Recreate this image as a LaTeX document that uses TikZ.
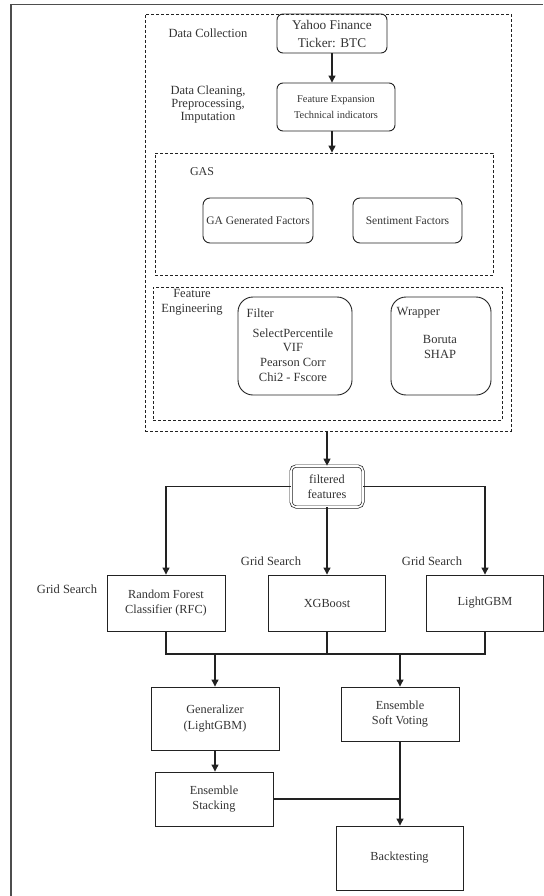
\documentclass[tikz,border=0pt]{standalone}
\usepackage{fontspec}
\setmainfont{Liberation Serif}
\usetikzlibrary{arrows.meta}
\definecolor{ink}{HTML}{222222}
\definecolor{txt}{HTML}{333333}
\tikzset{
  every node/.style={text=txt, inner sep=0pt},
  lbl/.style={font=\fontsize{12.5}{13}\selectfont, align=center},
  box/.style={draw=ink, line width=0.9pt, align=center, font=\fontsize{12.3}{15.5}\selectfont},
  rbox/.style={box, rounded corners=6pt},
  bigr/.style={box, rounded corners=15pt},
  dbox/.style={draw=ink, line width=0.8pt, dash pattern=on 3pt off 2pt},
  dblbox/.style={draw=ink, line width=0.7pt, double, double distance=1.6pt, rounded corners=5pt, align=center, font=\fontsize{12.3}{15.5}\selectfont},
  conn/.style={draw=ink, line width=1.1pt},
  arr/.style={conn, -{Triangle[length=7pt,width=7pt]}},
}
\begin{document}
\begin{tikzpicture}[x=1pt,y=-1pt]
\useasboundingbox (0,0) rectangle (543,896);
% outer frame
\draw[ink!80, line width=1.3pt] (11,896) -- (11,4.3) -- (543,4.3);
% dashed containers
\node[dbox, minimum width=366pt, minimum height=417pt] (outer) at (328,222.5) {};
\node[dbox, minimum width=338pt, minimum height=122pt] (gas) at (324,214) {};
\node[dbox, minimum width=349pt, minimum height=133pt] (fe) at (327.5,353.5) {};
% top nodes
\node[rbox, minimum width=110pt, minimum height=39pt, font=\fontsize{13.3}{18}\selectfont] (yahoo) at (332,33.5) {Yahoo Finance\\Ticker: BTC};
\node[rbox, minimum width=118pt, minimum height=48pt, font=\fontsize{10.4}{15.6}\selectfont] (fexp) at (336,107) {Feature Expansion\\Technical indicators};
\node[lbl] (dcol) at (208,33) {Data Collection};
\node[lbl] (dclean) at (208,104) {Data Cleaning,\\Preprocessing,\\Imputation};
% GAS
\node[lbl, font=\fontsize{12}{13}\selectfont] (gaslbl) at (202,172) {GAS};
\node[rbox, rounded corners=7pt, minimum width=110pt, minimum height=45pt, font=\fontsize{11.5}{14}\selectfont] (ga) at (258,220.5) {GA Generated Factors};
\node[rbox, rounded corners=7pt, minimum width=109pt, minimum height=45pt, font=\fontsize{11.5}{14}\selectfont] (sent) at (407.5,220.5) {Sentiment Factors};
% Feature engineering
\node[lbl, font=\fontsize{12.5}{15}\selectfont] (felbl) at (192,302.5) {Feature\\Engineering};
\node[bigr, minimum width=114pt, minimum height=98pt] (filter) at (295,346) {};
\node[anchor=west, font=\fontsize{12.5}{15}\selectfont] (filtert) at (246.5,313) {Filter};
\node[lbl, font=\fontsize{12.5}{14.7}\selectfont] (filterl) at (293,355) {SelectPercentile\\VIF\\Pearson Corr\\Chi2 - Fscore};
\node[bigr, minimum width=100pt, minimum height=98pt] (wrap) at (441,346) {};
\node[anchor=west, font=\fontsize{12.5}{15}\selectfont] (wrapt) at (396.5,313) {Wrapper};
\node[lbl, font=\fontsize{12.5}{15}\selectfont] (wrapl) at (440,346.5) {Boruta\\SHAP};
% filtered features
\node[dblbox, minimum width=72pt, minimum height=41pt] (filt) at (327,486.5) {filtered\\features};
% models
\node[box, minimum width=118pt, minimum height=56pt] (rfc) at (166,603) {Random Forest\\Classifier (RFC)};
\node[box, minimum width=117pt, minimum height=56pt] (xgb) at (327,603) {XGBoost};
\node[box, minimum width=117pt, minimum height=56pt] (lgbm) at (485,603) {LightGBM};
\node[lbl] (gs1) at (67,589) {Grid Search};
\node[lbl] (gs2) at (271,561.5) {Grid Search};
\node[lbl] (gs3) at (432,561.5) {Grid Search};
% ensemble
\node[box, minimum width=128pt, minimum height=63pt, font=\fontsize{12.3}{16.6}\selectfont] (gen) at (215,718.5) {Generalizer\\(LightGBM)};
\node[box, minimum width=118pt, minimum height=54pt] (soft) at (400,714) {Ensemble\\Soft Voting};
\node[box, minimum width=118pt, minimum height=54pt, font=\fontsize{12.3}{15}\selectfont] (stack) at (214,799) {Ensemble\\Stacking};
\node[box, minimum width=127pt, minimum height=64pt] (back) at (399.5,858) {Backtesting};
% connectors
\draw[arr] (yahoo.south) -- (yahoo.south |- fexp.north);
\draw[arr] (yahoo.south |- fexp.south) -- (yahoo.south |- gas.north);
\draw[arr] (filt.north |- outer.south) -- (filt.north);
\draw[arr] (filt.west) -| (rfc.north);
\draw[arr] (filt.east) -| (lgbm.north);
\draw[arr] (filt.south) -- (xgb.north);
\coordinate (jrow) at (327,654);
\draw[conn] (rfc.south) |- (jrow) -| (lgbm.south);
\draw[conn] (xgb.south) -- (jrow);
\draw[arr] (gen.north |- jrow) -- (gen.north);
\draw[arr] (soft.north |- jrow) -- (soft.north);
\draw[arr] (gen.south) -- (gen.south |- stack.north);
\draw[arr] (soft.south) -- (soft.south |- back.north);
\draw[conn] (stack.east) -- (stack.east -| soft.south);
\end{tikzpicture}
\end{document}
